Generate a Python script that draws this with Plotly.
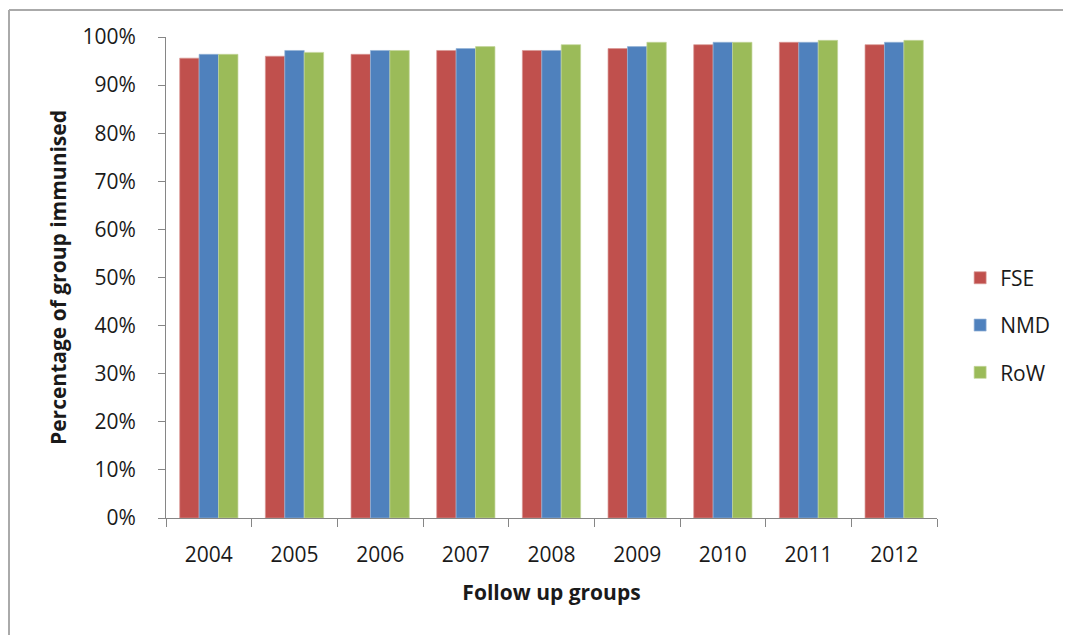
import plotly.graph_objects as go

years = ["2004", "2005", "2006", "2007", "2008", "2009", "2010", "2011", "2012"]
fse = [0.956, 0.960, 0.964, 0.972, 0.972, 0.976, 0.984, 0.989, 0.984]
nmd = [0.964, 0.972, 0.972, 0.976, 0.972, 0.980, 0.989, 0.989, 0.989]
row = [0.964, 0.968, 0.972, 0.980, 0.984, 0.989, 0.989, 0.993, 0.993]
y_ticks = [0, 0.1, 0.2, 0.3, 0.4, 0.5, 0.6, 0.7, 0.8, 0.9, 1.0]
y_tick_text = ["0%", "10%", "20%", "30%", "40%", "50%", "60%", "70%", "80%", "90%", "100%"]

series = [("FSE", fse, "#C0504D", "#D99694"),
          ("NMD", nmd, "#4F81BD", "#95B3D7"),
          ("RoW", row, "#9BBB59", "#C3D69B")]

FONT = "Open Sans"
# page has an 8px body margin; figure sized to fill the rest of the window
W, H = 1063, 627
ML, MR, MT, MB = 158, 134, 29, 117

fig = go.Figure()
for i, (name, vals, col, edge) in enumerate(series):
    fig.add_trace(go.Bar(x=years, y=vals, name=name, marker_color=col,
                         marker_line=dict(color=edge, width=0.7),
                         legendgroup=f"g{i}"))

axis_col = "#868686"
fig.update_layout(
    width=W, height=H,
    margin=dict(l=ML, r=MR, t=MT, b=MB, autoexpand=False),
    plot_bgcolor="white", paper_bgcolor="white",
    barmode="group", bargap=0.32, bargroupgap=0,
    font=dict(family=FONT, size=21, color="#1a1a1a"),
    legend=dict(x=1.030, y=0.401, xanchor="left", yanchor="middle",
                tracegroupgap=17, traceorder="grouped",
                font=dict(family=FONT, size=21, color="#1a1a1a")),
    xaxis=dict(showline=True, linecolor=axis_col, linewidth=1,
               ticks="outside", ticklen=8, tickcolor=axis_col, tickson="boundaries",
               ticklabelstandoff=18,
               title=dict(text="<b>Follow up groups</b>", standoff=18,
                          font=dict(family=FONT, size=21))),
    yaxis=dict(range=[0, 1], tickvals=y_ticks, ticktext=y_tick_text,
               showline=True, linecolor=axis_col, linewidth=1,
               ticks="outside", ticklen=7, tickcolor=axis_col,
               showgrid=False, zeroline=False, ticklabelstandoff=18,
               title=dict(text="<b>Percentage of group immunised</b>", standoff=10,
                          font=dict(family=FONT, size=21))),
    showlegend=True,
)

# chart border (top and left edges visible)
pw, ph = W - ML - MR, H - MT - MB
def px_x(p):
    return (p - ML) / pw
def px_y(p):
    return (H - MB - p) / ph
fig.add_shape(type="line", xref="paper", yref="paper",
              x0=px_x(1), x1=px_x(W + 5), y0=px_y(2), y1=px_y(2),
              line=dict(color="#AAAAAA", width=2))
fig.add_shape(type="line", xref="paper", yref="paper",
              x0=px_x(1), x1=px_x(1), y0=px_y(2), y1=px_y(H + 5),
              line=dict(color="#AAAAAA", width=2))

fig.write_html("out.html")
